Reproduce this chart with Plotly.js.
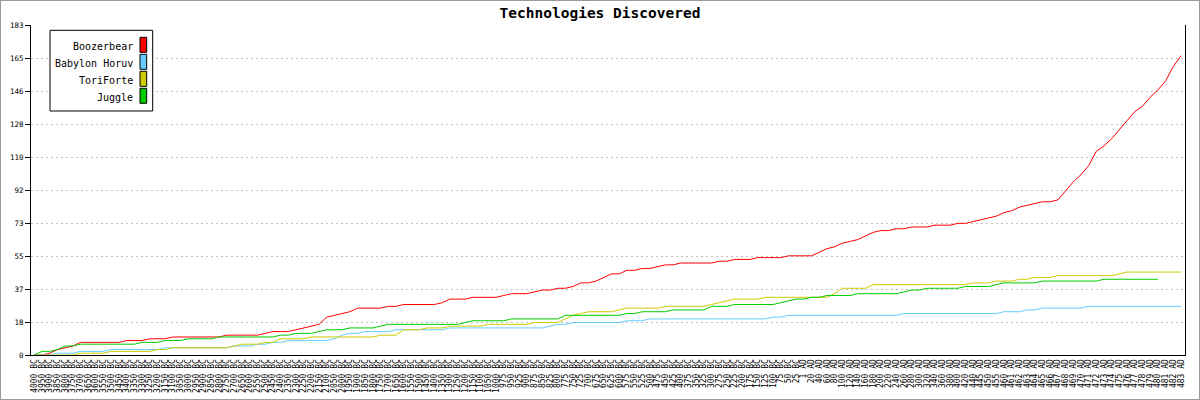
<!DOCTYPE html>
<html>
<head>
<meta charset="utf-8">
<script src="https://cdn.plot.ly/plotly-3.0.1.min.js"></script>
<style>
  html, body { margin: 0; padding: 0; background: #fff; }
  #chart { width: 1198px; height: 398px; border: 1px solid #999; }
</style>
</head>
<body>
<div id="chart"></div>
<script>
// ---- data ----
const chartTitle = 'Technologies Discovered';
const seriesNames = ['Boozerbear', 'Babylon Horuv', 'ToriForte', 'Juggle'];
const seriesColors = ['#ff0000', '#66ccff', '#cccc00', '#00cc00'];

const yearsBC = [4000,3950,3900,3850,3800,3750,3700,3650,3600,3550,3500,3450,3400,3350,3300,3250,3200,3150,3100,3050,
  3000,2950,2900,2850,2800,2750,2700,2650,2600,2550,2500,2450,2400,2350,2300,2250,2200,2150,2100,2050,
  2000,1950,1900,1850,1800,1750,1700,1650,1600,1550,1500,1450,1400,1350,1300,1250,1200,1150,1100,1050,
  1000,975,950,925,900,875,850,825,800,775,750,725,700,675,650,625,600,575,550,525,
  500,475,450,425,400,375,350,325,300,275,250,225,200,175,150,125,100,75,50,25];
const yearsAD = [1,20,40,60,80,100,120,140,160,180,200,220,240,260,280,300,320,340,360,380,400,420,440,
  445,450,455,460,461,462,463,464,465,466,467,468,469,470,471,472,473,474,475,476,477,478,479,480,481,482,483];

const boozerbear = [0,0,1,3,4,5,7,7,7,7,
  7,7,8,8,8,9,9,9,10,10,
  10,10,10,10,10,11,11,11,11,11,
  12,13,13,13,14,15,16,17,21,22,
  23,24,26,26,26,26,27,27,28,28,
  28,28,28,29,31,31,31,32,32,32,
  32,33,34,34,34,35,36,36,37,37,
  38,40,40,41,43,45,45,47,47,48,
  48,49,50,50,51,51,51,51,51,52,
  52,53,53,53,54,54,54,54,55,55,
  55,55,57,59,60,62,63,64,66,68,
  69,69,70,70,71,71,71,72,72,72,
  73,73,74,75,76,77,79,80,82,83,
  84,85,85,86,91,96,100,105,113,116,
  120,125,130,135,138,143,147,152,160,166];

const babylonHoruv = [0,0,0,1,1,1,2,2,2,2,
  3,3,3,3,3,3,3,4,4,4,
  4,4,4,4,4,4,5,5,5,6,
  6,7,7,8,8,8,8,8,8,9,
  11,12,12,13,13,13,13,14,14,14,
  14,14,14,14,15,15,15,15,15,15,
  15,15,15,15,15,15,15,16,17,17,
  18,18,18,18,18,18,18,19,19,19,
  20,20,20,20,20,20,20,20,20,20,
  20,20,20,20,20,20,21,21,22,22,
  22,22,22,22,22,22,22,22,22,22,
  22,22,22,23,23,23,23,23,23,23,
  23,23,23,23,23,23,24,24,24,25,
  25,26,26,26,26,26,26,27,27,27,
  27,27,27,27,27,27,27,27,27,27];

const toriForte = [0,0,0,0,0,0,1,1,1,1,
  2,2,2,2,2,2,3,3,4,4,
  4,4,4,4,4,4,5,6,6,6,
  7,7,9,9,9,9,10,10,10,10,
  10,10,10,10,10,11,11,11,14,14,
  14,15,15,15,16,16,16,16,16,17,
  17,17,17,17,17,18,18,18,18,20,
  22,23,24,24,24,24,25,26,26,26,
  26,26,27,27,27,27,27,27,28,29,
  30,31,31,31,31,32,32,32,32,32,
  32,32,32,32,34,37,37,37,37,39,
  39,39,39,39,39,39,39,39,39,39,
  39,39,40,40,40,41,41,41,42,42,
  43,43,43,44,44,44,44,44,44,44,
  44,45,46,46,46,46,46,46,46,46];

const juggle = [0,2,2,3,5,5,6,6,6,6,
  6,6,6,6,7,7,7,8,8,8,
  9,9,9,9,10,10,10,10,10,10,
  10,10,11,11,12,12,12,13,14,14,
  14,15,15,15,15,16,17,17,17,17,
  17,17,17,17,17,17,18,19,19,19,
  19,19,20,20,20,20,20,20,20,22,
  22,22,22,22,22,22,22,23,23,24,
  24,24,24,25,25,25,25,25,27,27,
  27,28,28,28,28,28,28,29,30,31,
  31,32,32,33,33,33,33,34,34,34,
  34,34,34,35,36,36,37,37,37,37,
  37,38,38,38,38,39,40,40,40,40,
  40,41,41,41,41,41,41,41,41,42,
  42,42,42,42,42,42,42,null,null,null];

const yTickText = ['0','18','37','55','73','92','110','128','146','165','183'];
const yMax = 183;

// ---- build ----
const categories = yearsBC.map(y => y + ' BC').concat(yearsAD.map(y => y + ' AD'));
const seriesValues = [boozerbear, babylonHoruv, toriForte, juggle];

const traces = seriesValues.map((vals, k) => ({
  type: 'scatter', mode: 'lines', x: categories, y: vals,
  name: seriesNames[k], line: {color: seriesColors[k], width: 1},
  connectgaps: false, hoverinfo: 'skip'
}));

const W = 1198, H = 398;
const M = {l: 30, r: 14, t: 24, b: 44};
const PW = W - M.l - M.r, PH = H - M.t - M.b;
const px = x => (x - M.l) / PW;
const py = y => (M.t + PH - y) / PH;

const mono = 'DejaVu Sans Mono, monospace';
const shapes = [];
const annotations = [];
// legend box
shapes.push({type: 'rect', xref: 'paper', yref: 'paper', x0: px(49), x1: px(151.7), y0: py(110), y1: py(29.3),
  line: {color: '#000', width: 1}, fillcolor: '#fff', layer: 'above'});
seriesNames.forEach((nm, k) => {
  const top = 36.3 + 17 * k;
  shapes.push({type: 'rect', xref: 'paper', yref: 'paper', x0: px(139), x1: px(145.7), y0: py(top + 15), y1: py(top),
    line: {color: '#000', width: 1}, fillcolor: seriesColors[k], layer: 'above'});
  annotations.push({xref: 'paper', yref: 'paper', x: px(133), y: py(top + 9), xanchor: 'right', yanchor: 'middle',
    text: nm, showarrow: false, font: {family: mono, size: 10, color: '#000'}, borderpad: 0});
});

const layout = {
  width: W, height: H,
  margin: M,
  paper_bgcolor: '#fff', plot_bgcolor: '#fff',
  showlegend: false,
  title: {text: '<b>' + chartTitle + '</b>', x: 0.5, xref: 'container', xanchor: 'center',
    y: 1 - 12 / H, yref: 'container', yanchor: 'middle', font: {family: mono, size: 14.5, color: '#000'}},
  xaxis: {
    type: 'category', range: [-0.43, 149.52], autorange: false,
    tickmode: 'array', tickvals: categories, ticktext: categories,
    tickangle: -90, tickfont: {family: mono, size: 8, color: '#000'},
    ticks: '', showgrid: false, zeroline: false,
    showline: true, linecolor: '#000', linewidth: 1
  },
  yaxis: {
    range: [0, yMax], autorange: false,
    tickmode: 'array', tickvals: yTickText.map((t, k) => yMax * k / (yTickText.length - 1)), ticktext: yTickText,
    tickfont: {family: mono, size: 7.5, color: '#000'},
    ticks: 'outside', ticklen: 5, tickcolor: '#000', tickwidth: 1,
    showgrid: true, gridcolor: '#c0c0c0', griddash: '2px,3px', gridwidth: 1,
    zeroline: false, showline: true, linecolor: '#000', linewidth: 1, mirror: true
  },
  shapes: shapes,
  annotations: annotations
};

Plotly.newPlot('chart', traces, layout, {staticPlot: true, displayModeBar: false});
</script>
</body>
</html>
